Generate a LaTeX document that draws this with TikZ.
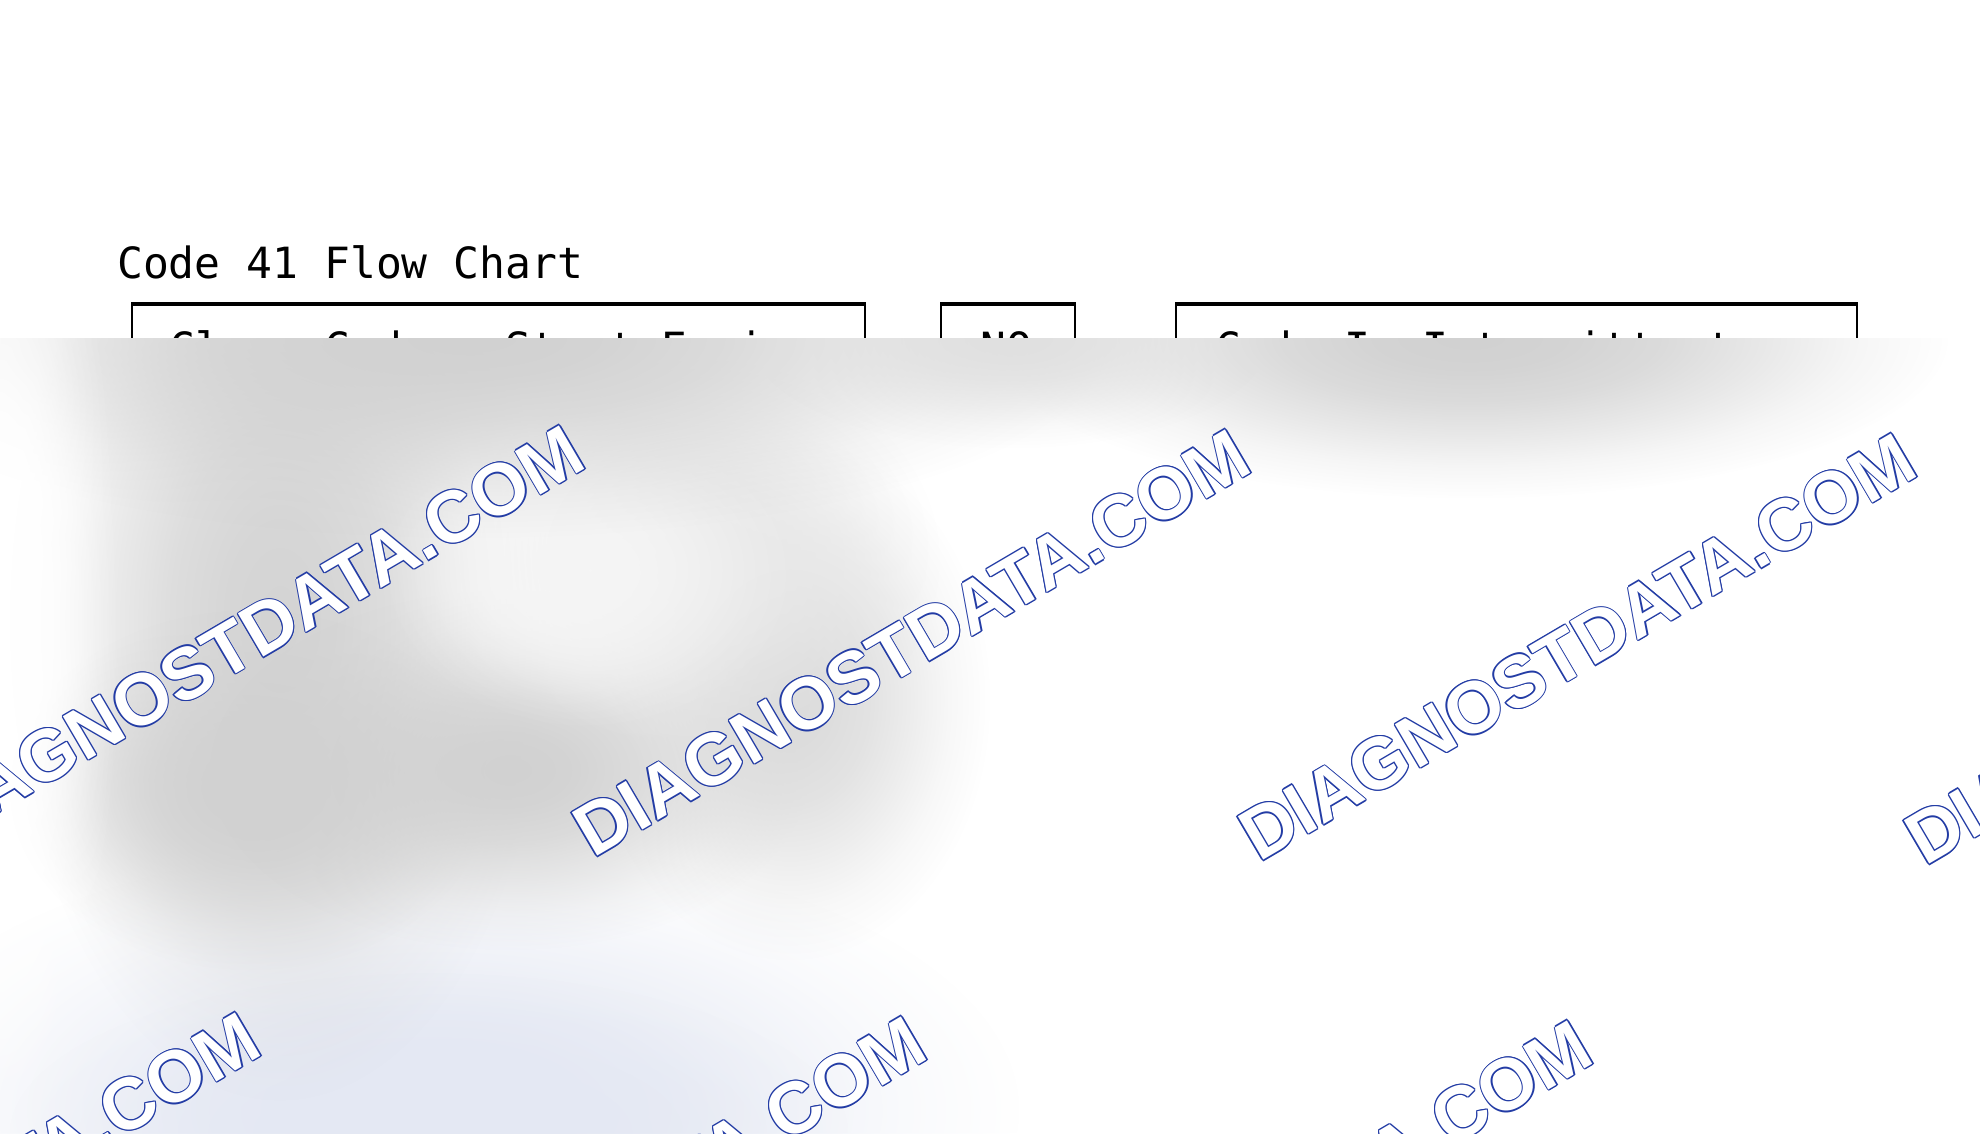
\documentclass[tikz,border=0pt]{standalone}
\usepackage{fontspec}
\usetikzlibrary{fadings,calc}
\newfontfamily\monofont{DejaVu Sans Mono}
\newfontfamily\wmfont{Liberation Sans}
\definecolor{wmblue}{RGB}{35,60,165}
\definecolor{bluegray}{RGB}{228,232,243}
\pgfdeclareradialshading{blobshade}{\pgfpointorigin}{color(0bp)=(pgftransparent!0); color(5bp)=(pgftransparent!6); color(10bp)=(pgftransparent!22); color(15bp)=(pgftransparent!50); color(20bp)=(pgftransparent!80); color(25bp)=(pgftransparent!100); color(50bp)=(pgftransparent!100)}
\pgfdeclarefading{softblob}{\pgfuseshading{blobshade}}
\newcommand{\blob}[5]{\fill[#5, path fading=softblob] (#1,#2) ellipse [x radius=#3bp, y radius=#4bp];}
\newcommand{\wmark}[3]{%
  \foreach \ang [count=\k] in {0,45,...,315}{%
    \node[wm, text=wmblue] (#1o\k) at ($(#2,#3)+(\ang:1.3)$) {DIAGNOSTDATA.COM};
  }
  \node[wm, text=white] (#1) at (#2,#3) {DIAGNOSTDATA.COM};
}
\tikzset{
  monotext/.style={font=\monofont\fontsize{43bp}{50bp}\selectfont, anchor=base west, inner sep=0pt},
  flowbox/.style={draw=black, line width=2bp, anchor=north west, inner sep=0pt},
  topedge/.style={line width=4.5bp},
  wm/.style={font=\wmfont\bfseries\fontsize{73bp}{73bp}\selectfont, anchor=base west, inner sep=0pt, rotate=30.4},
}
\begin{document}
\begin{tikzpicture}[x=1bp,y=-1bp]
\useasboundingbox (0,0) rectangle (1980,1133);
\fill[white] (0,0) rectangle (1980,1133);
\clip (0,0) rectangle (1980,1133);

% title
\node[monotext] (title) at (117,278) {Code 41 Flow Chart};

% boxes
\node[flowbox, minimum width=733bp, minimum height=130bp] (clearbox) at (131,304) {};
\draw[topedge] (clearbox.north west) -- (clearbox.north east);
\node[monotext] (cleartext) at (169,363) {Clear Codes, Start Engine};

\node[flowbox, minimum width=134bp, minimum height=130bp] (nobox) at (940,304) {};
\draw[topedge] (nobox.north west) -- (nobox.north east);
\node[monotext] (notext) at (980,363) {NO};

\node[flowbox, minimum width=681bp, minimum height=130bp] (interbox) at (1175,304) {};
\draw[topedge] (interbox.north west) -- (interbox.north east);
\node[monotext] (intertext) at (1215,363) {Code Is Intermittent};

% blurred lower part
\begin{scope}
  \clip (0,338) rectangle (1980,1133);
  \fill[white] (0,338) rectangle (1980,1133);
  % bottom left bluish
  \blob{440}{1110}{580}{270}{bluegray}
  \blob{430}{1133}{420}{160}{bluegray}
  % left mass
  \blob{280}{620}{270}{480}{black!17}
  \blob{250}{790}{240}{180}{black!18}
  \blob{510}{770}{300}{180}{black!18}
  \blob{790}{700}{200}{260}{black!14}
  \blob{700}{560}{240}{200}{black!9}
  % lighter patch inside the mass
  \blob{590}{570}{210}{160}{white!96!black}
  % top band
  \blob{470}{338}{640}{200}{black!18}
  \blob{1470}{338}{480}{160}{black!18}
  \blob{1010}{338}{260}{110}{black!12}
  % whitish left edge
  \blob{0}{620}{120}{520}{white}
\end{scope}

% watermarks
\wmark{wma}{-73}{855}
\wmark{wmb}{593}{859}
\wmark{wmc}{1259}{863}
\wmark{wmd}{1925}{867}
\wmark{wme}{-397}{1442}
\wmark{wmf}{269}{1446}
\wmark{wmg}{935}{1450}
\end{tikzpicture}
\end{document}
